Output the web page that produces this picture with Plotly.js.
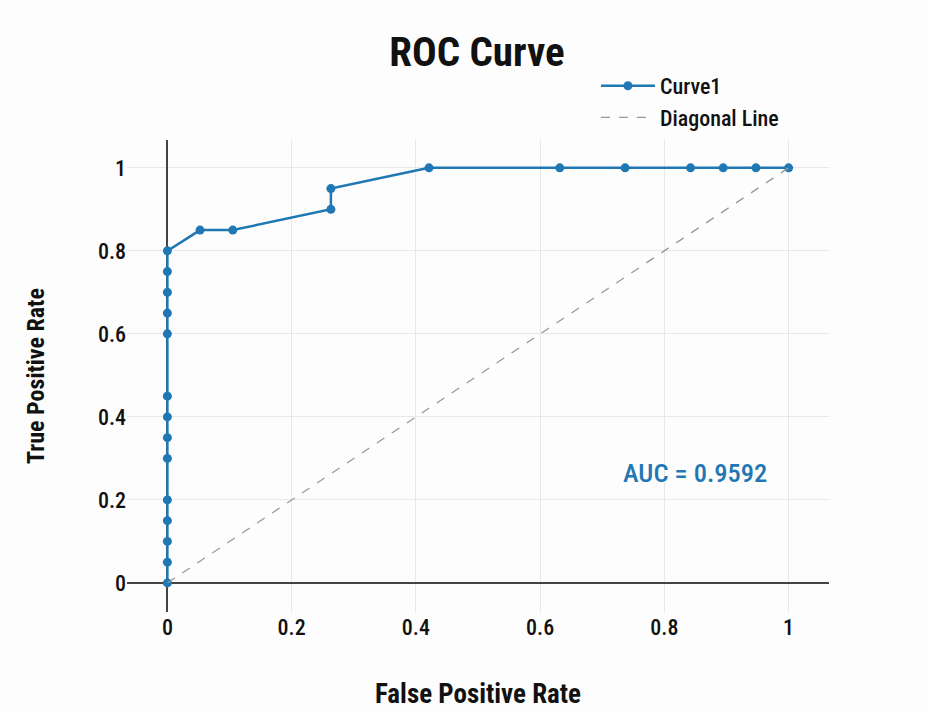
<!DOCTYPE html>
<html>
<head>
<meta charset="utf-8">
<script src="https://cdn.plot.ly/plotly-3.0.1.min.js"></script>
<style>html,body{margin:0;padding:0;background:#fff;}#chart{width:928px;height:713px;}</style>
</head>
<body>
<div id="chart"></div>
<script>
const fpr = [0,0,0,0,0,0,0,0,0,0,0,0,0,0,0.0526,0.1053,0.2632,0.2632,0.4211,0.6316,0.7368,0.8421,0.8947,0.9474,1];
const tpr = [0,0.05,0.1,0.15,0.2,0.3,0.35,0.4,0.45,0.6,0.65,0.7,0.75,0.8,0.85,0.85,0.9,0.95,1,1,1,1,1,1,1];
const diagX = [0,1];
const diagY = [0,1];
const tickVals = [0,0.2,0.4,0.6,0.8,1];
const tickText = ['0','0.2','0.4','0.6','0.8','1'];
const aucText = "AUC = 0.9592";
const FONT = "Roboto Condensed, Liberation Sans Narrow, DejaVu Sans Condensed, sans-serif";

const traces = [
  {x: fpr, y: tpr, type: 'scatter', mode: 'lines+markers', name: 'Curve1',
   line: {color: '#1f77b4', width: 2.5}, marker: {color: '#1f77b4', size: 9}},
  {x: diagX, y: diagY, type: 'scatter', mode: 'lines', name: 'Diagonal Line',
   line: {color: '#999999', width: 1.3, dash: 'dash'}}
];
const layout = {
  width: 928, height: 713,
  paper_bgcolor: '#fdfdfd', plot_bgcolor: '#fdfdfd',
  font: {family: FONT, color: '#111', size: 18, weight: 500},
  margin: {l: 127, r: 99, t: 140, b: 101},
  title: {text: '<b>ROC Curve</b>', x: 0.514, xanchor: 'center', y: 0.947, yanchor: 'top', font: {size: 41, family: FONT, color: '#111'}},
  xaxis: {range: [-0.065, 1.065], tickvals: tickVals, ticktext: tickText,
    gridcolor: '#e8e8e8', zeroline: true, zerolinecolor: '#444', zerolinewidth: 2, showline: false,
    ticks: '', tickfont: {size: 22, weight: 500}, title: {text: '<b>False Positive Rate</b>', font: {size: 27}, standoff: 45}},
  yaxis: {range: [-0.07, 1.067], tickvals: tickVals, ticktext: tickText,
    gridcolor: '#e8e8e8', zeroline: true, zerolinecolor: '#444', zerolinewidth: 1.5, showline: false,
    ticks: '', tickfont: {size: 22, weight: 500}, title: {text: '<b>True Positive Rate</b>', font: {size: 24}, standoff: 46}},
  legend: {x: 0.668, y: 1.159, xanchor: 'left', yanchor: 'top', bgcolor: 'rgba(0,0,0,0)', itemwidth: 54,
    font: {size: 22, weight: 500}},
  annotations: [{x: 0.85, y: 0.267, xref: 'x', yref: 'y', text: aucText, showarrow: false,
    font: {size: 26.5, color: '#1f77b4', family: FONT, weight: 500}}],
  showlegend: true
};
Plotly.newPlot('chart', traces, layout, {displayModeBar: false});
</script>
</body>
</html>
